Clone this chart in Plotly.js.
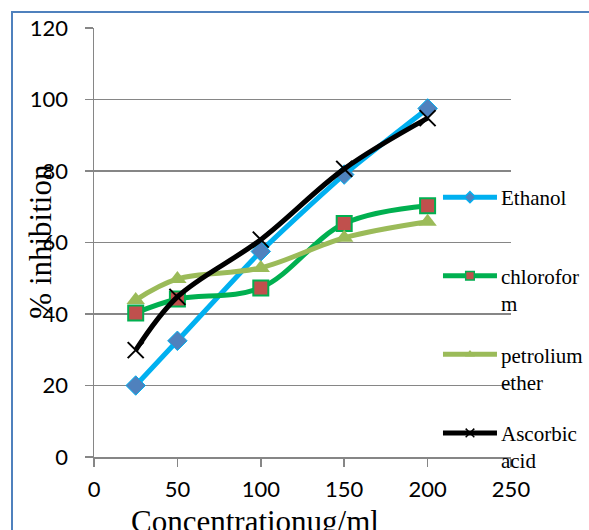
<!DOCTYPE html>
<html><head><meta charset="utf-8">
<script src="https://cdn.plot.ly/plotly-3.0.1.min.js"></script>
<style>
body{margin:0;padding:0;background:#fff;overflow:hidden}
#wrap{position:relative;width:589px;height:530px;overflow:hidden}
#frame{position:absolute;left:11px;top:11px;width:700px;height:700px;border-left:2px solid #4F81BD;border-top:2px solid #4F81BD;pointer-events:none}
#chart{position:absolute;left:0;top:0;width:589px;height:530px}
</style></head>
<body><div id="wrap"><div id="chart"></div><div id="frame"></div></div>
<script>
const concentration = [25, 50, 100, 150, 200];
const ethanol = [20, 32.5, 57.5, 79, 97.5];
const chloroform = [40.3, 44.2, 47.3, 65.3, 70.3];
const petrolium = [43.9, 49.8, 52.9, 61.3, 65.8];
const ascorbic = [29.9, 44.8, 60.8, 80.6, 94.8];
const seriesNames = ["Ethanol<br>\u00a0", "chlorofor<br>m", "petrolium<br>ether", "Ascorbic<br>acid"];
const xTicks = [0, 50, 100, 150, 200, 250];
const yTicks = [0, 20, 40, 60, 80, 100, 120];

const SERIF = '"Liberation Serif", "Times New Roman", Times, serif';
const SANS = 'Lato, Carlito, Calibri, sans-serif';

const traces = [
  {x: concentration, y: ethanol, name: seriesNames[0], legendgroup:'a', type:'scatter', mode:'lines+markers',
   line:{color:'#00B0F0', width:5, shape:'spline', smoothing:0.6},
   marker:{symbol:'diamond', size:15, color:'#4F81BD', line:{color:'#00B0F0', width:1}}},
  {x: concentration, y: chloroform, name: seriesNames[1], legendgroup:'b', type:'scatter', mode:'lines+markers',
   line:{color:'#00B050', width:5, shape:'spline', smoothing:1},
   marker:{symbol:'square', size:15, color:'#C0504D', line:{color:'#00B050', width:2}}},
  {x: concentration, y: petrolium, name: seriesNames[2], legendgroup:'c', type:'scatter', mode:'lines+markers',
   line:{color:'#9BBB59', width:5, shape:'spline', smoothing:1},
   marker:{symbol:'triangle-up', size:16, color:'#9BBB59'}},
  {x: concentration, y: ascorbic, name: seriesNames[3], legendgroup:'d', type:'scatter', mode:'lines+markers',
   line:{color:'#000000', width:5, shape:'spline', smoothing:1},
   marker:{symbol:'x-thin', size:16, color:'#000000', line:{color:'#000000', width:2}}}
];

const layout = {
  width:589, height:530,
  margin:{l:94, r:78, t:28, b:73, pad:0, autoexpand:false},
  paper_bgcolor:'#fff', plot_bgcolor:'#fff',
  showlegend:true,
  legend:{x:0.8225, y:0.6527, xanchor:'left', yanchor:'top', bgcolor:'rgba(0,0,0,0)',
    font:{family:SERIF, size:21, color:'#000'},
    tracegroupgap:21, valign:'top', itemwidth:54, itemsizing:'constant'},
  xaxis:{range:[0,250], tickvals:xTicks, ticktext:xTicks.map(String), showgrid:false, zeroline:false,
    showline:true, linecolor:'#868686', linewidth:1.5, ticks:'outside', ticklen:8, tickcolor:'#868686', tickwidth:1.5,
    tickfont:{family:SANS, size:22, color:'#000'}, ticklabelstandoff:4},
  yaxis:{range:[0,120], tickvals:yTicks, ticktext:yTicks.map(String), showgrid:true, gridcolor:'#868686', gridwidth:1.5, zeroline:false,
    showline:true, linecolor:'#868686', linewidth:1.5, ticks:'outside', ticklen:8, tickcolor:'#868686', tickwidth:1.5,
    tickfont:{family:SANS, size:22, color:'#000'}, ticklabelstandoff:12},
  annotations:[
    {text:'% inhibition', xref:'paper', yref:'paper', x:-0.127, y:0.502, textangle:-90, showarrow:false,
     xanchor:'center', yanchor:'middle', font:{family:SERIF, size:31, color:'#000'}},
    {text:'Concentrationug/ml', xref:'paper', yref:'paper', x:0.386, y:-0.15, showarrow:false,
     xanchor:'center', yanchor:'middle', font:{family:SERIF, size:31, color:'#000'}}
  ]
};
Plotly.newPlot('chart', traces, layout, {displayModeBar:false, staticPlot:true}).then(function(){
  document.querySelectorAll('#chart .legend .traces').forEach(function(t){
    t.querySelectorAll('path.js-line').forEach(function(p){ p.setAttribute('d','M6,0h54'); });
    t.querySelectorAll('path.scatterpts').forEach(function(p){ p.setAttribute('transform','translate(33,0) scale(0.72)'); });
  });
});
</script></body></html>
